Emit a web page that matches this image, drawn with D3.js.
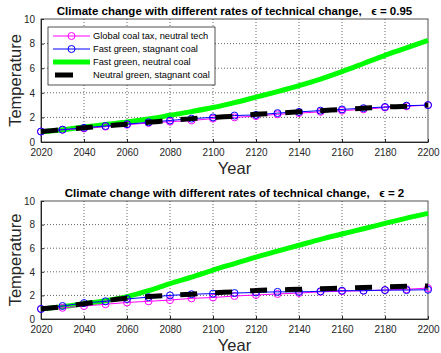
<!DOCTYPE html>
<html>
<head>
<meta charset="utf-8">
<script src="https://cdn.jsdelivr.net/npm/d3@7"></script>
<style>
  body { margin: 0; background: #fff; }
  text { font-family: "Liberation Sans", Arial, sans-serif; }
</style>
</head>
<body>
<div id="container"></div>
<script>
/* DATA */
const years = [2020, 2030, 2040, 2050, 2060, 2070, 2080, 2090, 2100, 2110, 2120, 2130, 2140, 2150, 2160, 2170, 2180, 2190, 2200];

// epsilon = 0.95
const taxA     = [0.85, 1.0, 1.1, 1.25, 1.4, 1.55, 1.65, 1.75, 1.9, 2.0, 2.1, 2.25, 2.35, 2.45, 2.55, 2.65, 2.8, 2.9, 3.0];
const fastStagA = [0.85, 1.0, 1.15, 1.3, 1.45, 1.6, 1.75, 1.9, 2.0, 2.15, 2.2, 2.35, 2.45, 2.55, 2.65, 2.75, 2.85, 2.95, 3.0];
const fastNeutA = [0.82, 1.0, 1.22, 1.42, 1.63, 1.88, 2.17, 2.47, 2.8, 3.2, 3.65, 4.1, 4.58, 5.12, 5.72, 6.38, 7.05, 7.65, 8.27];
const neutStagA = [0.85, 1.0, 1.15, 1.3, 1.45, 1.6, 1.75, 1.9, 2.0, 2.1, 2.25, 2.35, 2.45, 2.55, 2.65, 2.75, 2.85, 2.9, 3.0];

// epsilon = 2
const taxB     = [0.85, 0.95, 1.1, 1.25, 1.4, 1.5, 1.6, 1.75, 1.82, 1.95, 2.03, 2.12, 2.2, 2.3, 2.35, 2.4, 2.45, 2.52, 2.62];
const fastStagB = [0.85, 1.1, 1.35, 1.5, 1.7, 1.85, 2.0, 2.1, 2.15, 2.2, 2.25, 2.3, 2.3, 2.35, 2.4, 2.4, 2.45, 2.45, 2.48];
const fastNeutB = [0.85, 1.05, 1.3, 1.55, 1.9, 2.4, 3.0, 3.55, 4.15, 4.7, 5.25, 5.75, 6.25, 6.75, 7.2, 7.65, 8.1, 8.55, 8.95];
const neutStagB = [0.85, 1.05, 1.3, 1.55, 1.75, 1.9, 2.0, 2.1, 2.22, 2.3, 2.42, 2.47, 2.52, 2.57, 2.62, 2.67, 2.72, 2.77, 2.8];

const xTicks = [2020, 2040, 2060, 2080, 2100, 2120, 2140, 2160, 2180, 2200];
const yTicks = [0, 2, 4, 6, 8, 10];

const seriesNames = ["Global coal tax, neutral tech", "Fast green, stagnant coal", "Fast green, neutral coal", "Neutral green, stagnant coal"];

/* CONSTANTS */
const width = 441, height = 353;
const left = 41, right = 428;

const svg = d3.select("#container").append("svg")
  .attr("width", width)
  .attr("height", height)
  .style("background-color", "white");

const xScale = d3.scaleLinear().domain([2020, 2200]).range([left, right]);

function drawPanel(top, bottom, title, tax, fastStag, fastNeut, neutStag, withLegend) {
  const yScale = d3.scaleLinear().domain([0, 10]).range([bottom, top]);
  const g = svg.append("g");

  // grid
  g.selectAll("line.gx").data(xTicks.slice(1, -1)).join("line")
    .attr("x1", d => xScale(d)).attr("x2", d => xScale(d))
    .attr("y1", top).attr("y2", bottom)
    .attr("stroke", "#222").attr("stroke-width", 0.7).attr("stroke-dasharray", "1,2");
  g.selectAll("line.gy").data(yTicks.slice(1, -1)).join("line")
    .attr("x1", left).attr("x2", right)
    .attr("y1", d => yScale(d)).attr("y2", d => yScale(d))
    .attr("stroke", "#222").attr("stroke-width", 0.7).attr("stroke-dasharray", "1,2");

  // axes
  const xAxis = d3.axisBottom(xScale).tickValues(xTicks).tickFormat(d3.format("d")).tickSizeInner(-3).tickSizeOuter(0).tickPadding(7);
  const yAxis = d3.axisLeft(yScale).tickValues(yTicks).tickSizeInner(-3).tickSizeOuter(0).tickPadding(6);
  const gx = g.append("g").attr("transform", `translate(0,${bottom})`).call(xAxis);
  const gy = g.append("g").attr("transform", `translate(${left},0)`).call(yAxis);
  [gx, gy].forEach(a => {
    a.selectAll("text").style("font-size", "10px").attr("fill", "#262626");
    a.selectAll("line").attr("stroke", "#262626");
    a.select(".domain").attr("stroke", "#262626");
  });

  // box
  g.append("rect").attr("x", left).attr("y", top).attr("width", right - left).attr("height", bottom - top)
    .attr("fill", "none").attr("stroke", "#262626").attr("stroke-width", 0.8);

  const line = vals => d3.line().curve(d3.curveMonotoneX)
    .x((d, i) => xScale(years[i])).y(d => yScale(d))(vals);

  g.append("path").attr("d", line(fastNeut)).attr("fill", "none").attr("stroke", "#00ff00").attr("stroke-width", 5);
  g.append("path").attr("d", line(tax)).attr("fill", "none").attr("stroke", "#ff00ff").attr("stroke-width", 1);
  g.selectAll("circle.tax").data(tax).join("circle")
    .attr("cx", (d, i) => xScale(years[i])).attr("cy", d => yScale(d)).attr("r", 3.5)
    .attr("fill", "none").attr("stroke", "#ff00ff").attr("stroke-width", 1);
  g.append("path").attr("d", line(fastStag)).attr("fill", "none").attr("stroke", "#0000ff").attr("stroke-width", 1);
  g.selectAll("circle.fs").data(fastStag).join("circle")
    .attr("cx", (d, i) => xScale(years[i])).attr("cy", d => yScale(d)).attr("r", 3.5)
    .attr("fill", "none").attr("stroke", "#0000ff").attr("stroke-width", 1);
  g.append("path").attr("d", line(neutStag)).attr("fill", "none").attr("stroke", "#000").attr("stroke-width", 5)
    .attr("stroke-dasharray", "17,18");

  // title
  svg.append("text").attr("x", (left + right) / 2).attr("y", top - 4)
    .attr("text-anchor", "middle").style("font-size", "11.5px").style("font-weight", "bold")
    .style("white-space", "pre")
    .text(title);

  // labels
  svg.append("text").attr("x", (left + right) / 2).attr("y", bottom + 32)
    .attr("text-anchor", "middle").style("font-size", "16.5px").attr("fill", "#262626").text("Year");
  svg.append("text").attr("transform", `translate(21,${(top + bottom) / 2}) rotate(-90)`)
    .attr("text-anchor", "middle").style("font-size", "16.5px").attr("fill", "#262626").text("Temperature");

  if (withLegend) {
    const lg = svg.append("g");
    lg.append("rect").attr("x", 48).attr("y", 27).attr("width", 167).attr("height", 58)
      .attr("fill", "white").attr("stroke", "#262626").attr("stroke-width", 0.8);
    const rowY = [36, 49, 62, 75];
    const cols = ["#ff00ff", "#0000ff", "#00ff00", "#000"];
    seriesNames.forEach((name, i) => {
      const y = rowY[i];
      if (i < 2) {
        lg.append("line").attr("x1", 53).attr("x2", 90).attr("y1", y).attr("y2", y).attr("stroke", cols[i]).attr("stroke-width", 1);
        lg.append("circle").attr("cx", 71.5).attr("cy", y).attr("r", 3.5).attr("fill", "none").attr("stroke", cols[i]);
      } else if (i === 2) {
        lg.append("line").attr("x1", 53).attr("x2", 90).attr("y1", y).attr("y2", y).attr("stroke", cols[i]).attr("stroke-width", 5);
      } else {
        lg.append("line").attr("x1", 55).attr("x2", 73).attr("y1", y).attr("y2", y).attr("stroke", cols[i]).attr("stroke-width", 5);
      }
      lg.append("text").attr("x", 93).attr("y", y + 3.2).style("font-size", "9.3px").text(name);
    });
  }
}

drawPanel(19, 142, "Climate change with different rates of technical change,   \u03F5 = 0.95", taxA, fastStagA, fastNeutA, neutStagA, true);
drawPanel(201, 319, "Climate change with different rates of technical change,   \u03F5 = 2", taxB, fastStagB, fastNeutB, neutStagB, false);
</script>
</body>
</html>
